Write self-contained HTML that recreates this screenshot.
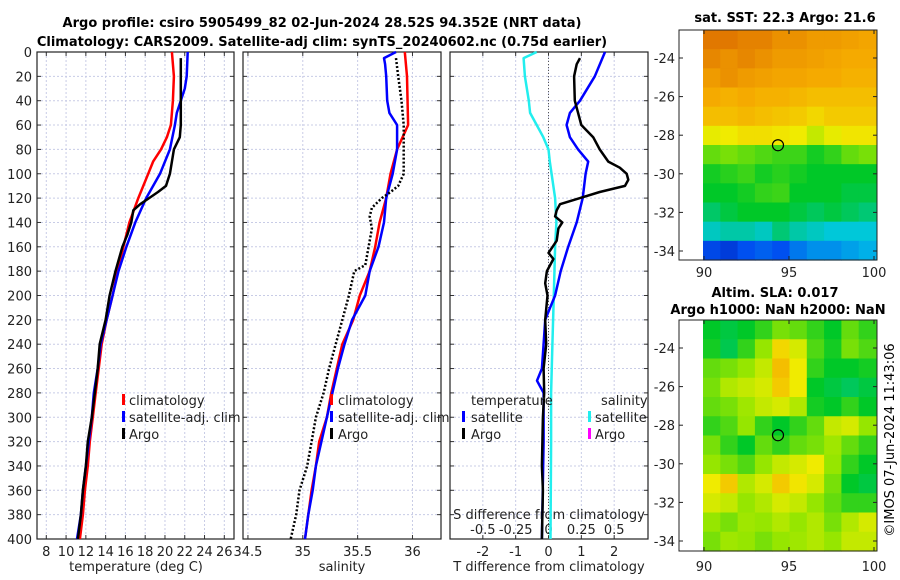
<!DOCTYPE html>
<html><head><meta charset="utf-8"><style>
html,body{margin:0;padding:0;background:#fff;}
svg{display:block;font-family:"DejaVu Sans","Liberation Sans",sans-serif;}
</style></head><body>
<svg id="chart" width="900" height="580" viewBox="0 0 900 580" xmlns="http://www.w3.org/2000/svg">
<text x="322" y="27" font-size="13" font-weight="bold" text-anchor="middle">Argo profile: csiro 5905499_82 02-Jun-2024 28.52S 94.352E (NRT data)</text>
<text x="322" y="46" font-size="13" font-weight="bold" text-anchor="middle">Climatology: CARS2009. Satellite-adj clim: synTS_20240602.nc (0.75d earlier)</text>
<text x="785" y="22" font-size="13" font-weight="bold" text-anchor="middle">sat. SST: 22.3 Argo: 21.6</text>
<text x="775" y="297" font-size="13" font-weight="bold" text-anchor="middle">Altim. SLA: 0.017</text>
<text x="778" y="314" font-size="13" font-weight="bold" text-anchor="middle">Argo h1000: NaN h2000: NaN</text>
<text transform="translate(894,440) rotate(-90)" font-size="13" text-anchor="middle">©IMOS 07-Jun-2024 11:43:06</text>
<g id="g"></g>
</svg>
<script>
// ---------- data ----------
const depthTicks=[0,20,40,60,80,100,120,140,160,180,200,220,240,260,280,300,320,340,360,380,400];
const tempTicks=[8,10,12,14,16,18,20,22,24,26];
const salTicks=[34.5,35,35.5,36];
const salTickLabels=["34.5","35","35.5","36"];
const tdiffTicks=[-2,-1,0,1,2];
const sdiffTicks=[-0.5,-0.25,0,0.25,0.5];
const sdiffTickLabels=["-0.5","-0.25","0","0.25","0.5"];

const climTempDepth=[0,20,40,60,70,80,90,100,120,140,160,180,200,220,240,260,280,300,320,340,360,380,400];
const climTemp=[20.7,20.9,20.8,20.6,20.2,19.6,18.8,18.3,17.3,16.4,15.8,15.2,14.7,14.1,13.6,13.3,13.0,12.7,12.4,12.2,11.9,11.7,11.4];
const satTempDepth=[0,20,30,40,50,60,80,100,120,140,160,180,200,220,240,260,280,300,320,340,360,380,400];
const satTemp=[22.3,22.2,22.0,21.6,21.2,21.0,20.5,19.5,18.1,17.0,16.1,15.3,14.7,14.1,13.5,13.2,12.8,12.6,12.3,12.0,11.7,11.5,11.1];
const argoTempDepth=[5,20,40,60,70,80,100,110,115,120,125,130,135,140,150,160,180,200,220,240,260,280,300,320,340,360,380,400];
const argoTemp=[21.6,21.6,21.6,21.6,21.5,20.9,20.5,20.1,19.3,18.4,17.5,16.8,16.7,16.6,16.2,15.7,15.0,14.4,14.0,13.4,13.2,12.9,12.6,12.2,12.0,11.7,11.5,11.2];

const climSalDepth=[0,20,60,80,100,120,140,160,180,200,220,240,260,280,300,320,340,360,380,400];
const climSal=[35.93,35.95,35.96,35.86,35.8,35.76,35.7,35.66,35.61,35.52,35.46,35.36,35.31,35.26,35.22,35.15,35.12,35.08,35.05,35.02];
const satSalDepth=[0,5,10,20,40,50,60,80,100,120,140,160,180,200,220,240,260,280,300,320,340,360,380,400];
const satSal=[35.85,35.74,35.75,35.76,35.77,35.79,35.86,35.86,35.82,35.76,35.74,35.69,35.61,35.57,35.45,35.38,35.32,35.27,35.22,35.17,35.12,35.09,35.05,35.02];
const argoSalDepth=[5,20,40,60,80,100,110,115,120,128,135,145,160,175,180,200,220,240,260,280,300,320,340,360,380,400];
const argoSal=[35.85,35.87,35.9,35.92,35.92,35.92,35.87,35.8,35.72,35.63,35.61,35.63,35.6,35.57,35.47,35.42,35.36,35.3,35.24,35.19,35.12,35.08,35.04,34.97,34.94,34.89];

const satSdiffDepth=[0,5,20,40,50,60,70,80,90,120,140,160,200,240,280,320,400];
const satSdiff=[-0.09,-0.19,-0.18,-0.15,-0.14,-0.09,-0.04,0,0.01,0.05,0.06,0.05,0.04,0.03,0.02,0.02,0.015];
const satTdiffDepth=[0,20,40,50,60,70,80,90,100,120,140,160,180,200,210,220,240,260,270,280,300,320,400];
const satTdiff=[1.72,1.41,0.96,0.65,0.55,0.65,0.9,1.21,1.13,1.04,0.86,0.6,0.37,0.2,0.05,-0.1,-0.15,-0.2,-0.35,-0.15,-0.15,-0.15,-0.2];
const argoTdiffDepth=[5,10,20,40,50,60,70,80,90,95,100,105,110,115,120,125,130,135,140,145,155,165,170,180,190,200,220,240,260,280,300,340,360,400];
const argoTdiff=[0.96,0.86,0.78,0.8,0.9,1.0,1.36,1.56,1.82,2.17,2.38,2.43,2.33,1.56,0.96,0.35,0.25,0.2,0.42,0.3,0.25,0.0,0.15,-0.05,-0.1,-0.03,-0.1,-0.07,-0.15,-0.13,-0.17,-0.2,-0.17,-0.2];

const lonTicks=[90,95,100];
const latTicks=[-24,-26,-28,-30,-32,-34];
const sstGrid=[
[0.95,0.95,0.93,0.93,0.9,0.9,0.88,0.88,0.87,0.86],
[0.92,0.9,0.92,0.9,0.88,0.88,0.87,0.86,0.85,0.85],
[0.88,0.9,0.88,0.87,0.86,0.86,0.85,0.85,0.84,0.84],
[0.85,0.84,0.85,0.84,0.84,0.83,0.82,0.82,0.82,0.82],
[0.82,0.82,0.83,0.82,0.81,0.8,0.78,0.8,0.8,0.8],
[0.74,0.75,0.77,0.77,0.76,0.75,0.7,0.74,0.76,0.76],
[0.6,0.62,0.6,0.58,0.56,0.56,0.52,0.55,0.6,0.62],
[0.52,0.54,0.56,0.52,0.54,0.52,0.5,0.5,0.5,0.5],
[0.5,0.5,0.52,0.55,0.56,0.5,0.5,0.5,0.48,0.48],
[0.45,0.48,0.5,0.5,0.5,0.48,0.46,0.48,0.46,0.44],
[0.38,0.4,0.4,0.38,0.44,0.4,0.38,0.36,0.36,0.36],
[0.18,0.15,0.2,0.22,0.2,0.25,0.28,0.28,0.3,0.32]];
const slaGrid=[
[0.5,0.48,0.5,0.55,0.62,0.6,0.55,0.5,0.6,0.55],
[0.52,0.47,0.55,0.65,0.78,0.72,0.58,0.52,0.62,0.58],
[0.6,0.62,0.65,0.7,0.82,0.75,0.55,0.5,0.5,0.52],
[0.62,0.68,0.7,0.72,0.8,0.75,0.5,0.48,0.46,0.48],
[0.6,0.62,0.66,0.7,0.72,0.68,0.52,0.5,0.55,0.5],
[0.55,0.58,0.65,0.55,0.5,0.55,0.6,0.7,0.72,0.65],
[0.62,0.55,0.5,0.6,0.55,0.6,0.62,0.66,0.6,0.55],
[0.65,0.62,0.58,0.65,0.7,0.72,0.75,0.65,0.55,0.5],
[0.75,0.8,0.68,0.72,0.8,0.76,0.72,0.62,0.5,0.48],
[0.72,0.7,0.65,0.68,0.72,0.7,0.65,0.6,0.55,0.55],
[0.65,0.62,0.66,0.65,0.68,0.65,0.68,0.62,0.68,0.72],
[0.62,0.66,0.65,0.62,0.65,0.66,0.68,0.65,0.7,0.7]];
const argoLon=[94.352];
const argoLat=[-28.52];

// ---------- drawing ----------
const NS="http://www.w3.org/2000/svg";
const G=document.getElementById('g');
function mk(tag,attrs,parent){const e=document.createElementNS(NS,tag);for(const k in attrs)e.setAttribute(k,attrs[k]);(parent||G).appendChild(e);return e;}
const TOP=52,BOT=539;
const yD=d=>TOP+(d-0)*(BOT-TOP)/400;
const panels=[
 {name:'temperature',x0:37,x1:234,d0:7.06,d1:26.98},
 {name:'salinity',x0:243,x1:441,d0:34.455,d1:36.26},
 {name:'difference',x0:450,x1:648,d0:-3,d1:3.03}];
const sx=p=>v=>p.x0+(v-p.d0)*(p.x1-p.x0)/(p.d1-p.d0);
const xT=sx(panels[0]),xS=sx(panels[1]),xTd=sx(panels[2]);
const xSd=v=>xTd(v*4);

function grid(p,xticks,xs,label){
  const g=mk('g',{});
  
  
  depthTicks.forEach(d=>{
    const l=mk('line',{x1:p.x0,x2:p.x1,y1:yD(d),y2:yD(d),stroke:'#c8cce6','stroke-width':1,'stroke-dasharray':'2,2'},g);
    
    mk('line',{x1:p.x0,x2:p.x0+4,y1:yD(d),y2:yD(d),stroke:'#333'},g);
    mk('line',{x1:p.x1-4,x2:p.x1,y1:yD(d),y2:yD(d),stroke:'#333'},g);
  });
  xticks.forEach((v,i)=>{
    const X=xs(v);
    const l=mk('line',{x1:X,x2:X,y1:TOP,y2:BOT,stroke:'#c8cce6','stroke-width':1,'stroke-dasharray':'2,2'},g);
    
    mk('line',{x1:X,x2:X,y1:BOT-4,y2:BOT,stroke:'#333'},g);
    mk('line',{x1:X,x2:X,y1:TOP,y2:TOP+4,stroke:'#333'},g);
    const t=mk('text',{x:X,y:556,'font-size':13,'text-anchor':'middle',fill:'#222'},g);
    t.textContent=label?label[i]:String(v);
    
  });
  const r=mk('rect',{x:p.x0,y:TOP,width:p.x1-p.x0,height:BOT-TOP,fill:'none',stroke:'#222','stroke-width':1.2},g);
  
  return g;
}
function line(xs,vals,depths,color,w,dash,name){
  const pts=vals.map((v,i)=>xs(v).toFixed(1)+','+yD(depths[i]).toFixed(1)).join(' ');
  const pl=mk('polyline',{points:pts,fill:'none',stroke:color,'stroke-width':w,'stroke-linejoin':'round'});
  if(dash)pl.setAttribute('stroke-dasharray',dash);
  
  
}
function txt(x,y,s,name,anchor,size){
  const t=mk('text',{x:x,y:y,'font-size':size||13,'text-anchor':anchor||'start',fill:'#222'});
  t.textContent=s;return t;
}
grid(panels[0],tempTicks,xT);
grid(panels[1],salTicks,xS,salTickLabels);
grid(panels[2],tdiffTicks,xTd);
depthTicks.forEach(d=>{txt(32,yD(d)+5,String(d),'depth-tick-label','end');});
txt(136,571,'temperature (deg C)','x-axis-title-temperature','middle');
txt(342,571,'salinity','x-axis-title-salinity','middle');
txt(549,571,'T difference from climatology','x-axis-title-tdiff','middle');
txt(549,519,'S difference from climatology','s-diff-axis-title','middle');
sdiffTicks.forEach((v,i)=>txt(xSd(v),534,sdiffTickLabels[i],'s-diff-tick-label','middle'));
{const z=mk('line',{x1:xTd(0),x2:xTd(0),y1:TOP,y2:BOT,stroke:'#555','stroke-width':1,'stroke-dasharray':'1,2'});
}

line(xT,climTemp,climTempDepth,'#f00',2.5,null,'climatology-temperature-line');
line(xT,satTemp,satTempDepth,'#00f',2.5,null,'satellite-temperature-line');
line(xT,argoTemp,argoTempDepth,'#000',2.5,null,'argo-temperature-line');
line(xS,climSal,climSalDepth,'#f00',2.5,null,'climatology-salinity-line');
line(xS,satSal,satSalDepth,'#00f',2.5,null,'satellite-salinity-line');
line(xS,argoSal,argoSalDepth,'#000',2.5,'2,2','argo-salinity-line');
line(xSd,satSdiff,satSdiffDepth,'#22eeee',2.5,null,'satellite-salinity-diff-line');
line(xTd,satTdiff,satTdiffDepth,'#00f',2.5,null,'satellite-temperature-diff-line');
line(xTd,argoTdiff,argoTdiffDepth,'#000',2.5,null,'argo-temperature-diff-line');

function legendItem(mx,tx,y,color,label,name){
  const m=mk('rect',{x:mx,y:y-11,width:3,height:11,fill:color});
  
  txt(tx,y,label,name+'-label');
}
[['#f00','climatology'],['#00f','satellite-adj. clim'],['#000','Argo']].forEach((e,i)=>{
  legendItem(122,129,405+i*17,e[0],e[1],'legend-t-'+i);
  legendItem(330,338,405+i*17,e[0],e[1],'legend-s-'+i);
});
txt(471,405,'temperature','legend-diff-temperature-heading');
txt(601,405,'salinity','legend-diff-salinity-heading');
legendItem(462,471,422,'#00f','satellite','legend-diff-t-satellite');
legendItem(462,471,439,'#000','Argo','legend-diff-t-argo');
legendItem(588,595,422,'#22eeee','satellite','legend-diff-s-satellite');
legendItem(588,595,439,'#f0f','Argo','legend-diff-s-argo');

// ---------- maps ----------
const stops=[[0,[0,0,150]],[0.2,[0,80,240]],[0.35,[0,200,230]],[0.5,[0,200,40]],[0.65,[150,230,0]],[0.75,[240,235,0]],[0.85,[245,170,0]],[1,[215,95,0]]];
function cmap(v){for(let i=1;i<stops.length;i++){if(v<=stops[i][0]){const a=stops[i-1],b=stops[i],t=(v-a[0])/(b[0]-a[0]);return 'rgb('+a[1].map((c,k)=>Math.round(c+(b[1][k]-c)*t)).join(',')+')';}}return 'rgb(215,95,0)';}
function drawMap(name,grid,fy0,fy1,lat24y,lat34y,labelY){
  const g=mk('g',{});
  
  
  const lonX=lon=>704+(lon-90)*(874-704)/10;
  const latY=lat=>lat24y+(lat+24)*(lat34y-lat24y)/(-10);
  const ix0=703,ix1=876,rows=grid.length,cols=grid[0].length;
  const cw=(ix1-ix0)/cols,ch=(fy1-fy0)/rows;
  grid.forEach((row,r)=>row.forEach((v,c)=>{
    const cell=mk('rect',{x:ix0+c*cw,y:fy0+r*ch,width:cw+0.6,height:ch+0.6,fill:cmap(v)},g);
    
    
  }));
  const fr=mk('rect',{x:679,y:fy0,width:198,height:fy1-fy0,fill:'none',stroke:'#222','stroke-width':1},g);
  
  latTicks.forEach(l=>{const Y=latY(l);mk('line',{x1:679,x2:683,y1:Y,y2:Y,stroke:'#222'},g);mk('line',{x1:873,x2:877,y1:Y,y2:Y,stroke:'#222'},g);
    const t=mk('text',{x:675,y:Y+5,'font-size':13,'text-anchor':'end',fill:'#222'},g);t.textContent=String(l);
    });
  lonTicks.forEach(l=>{const X=lonX(l);mk('line',{x1:X,x2:X,y1:fy1-4,y2:fy1,stroke:'#222'},g);mk('line',{x1:X,x2:X,y1:fy0,y2:fy0+4,stroke:'#222'},g);
    const t=mk('text',{x:X,y:labelY,'font-size':13,'text-anchor':'middle',fill:'#222'},g);t.textContent=String(l);
    });
  const c=mk('circle',{cx:lonX(argoLon[0]),cy:latY(argoLat[0]),r:5.5,fill:'none',stroke:'#000','stroke-width':1.2},g);
  
}
drawMap('sst-map',sstGrid,30,260,58,251,277);
drawMap('sla-map',slaGrid,320,551,348,541,571);
</script>
</body></html>
